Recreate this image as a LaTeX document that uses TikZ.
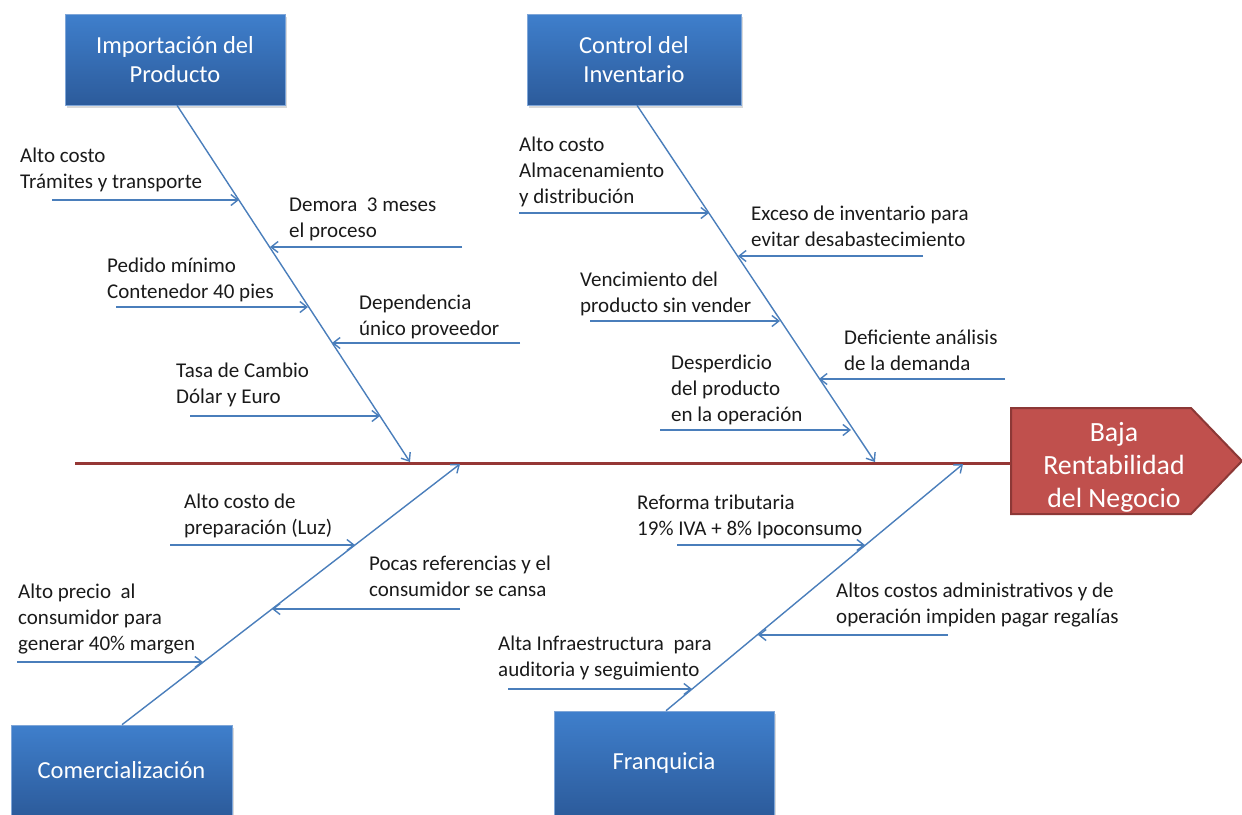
\documentclass[tikz,border=0pt]{standalone}
\usepackage{fontspec}
\setmainfont{Carlito}
\usetikzlibrary{arrows.meta,shadows}
\definecolor{bonecol}{HTML}{4A7EBB}
\definecolor{spinecol}{HTML}{953735}
\definecolor{boxtop}{HTML}{3F7FCC}
\definecolor{boxbot}{HTML}{2C5B9B}
\definecolor{boxline}{HTML}{7FA6D8}
\definecolor{effectfill}{HTML}{C0504D}
\definecolor{effectdraw}{HTML}{8C3836}
\definecolor{labeltext}{HTML}{1A1A1A}
\begin{document}
\begin{tikzpicture}[x=1pt,y=-1pt,
  causebox/.style={shading=axis, top color=boxtop, bottom color=boxbot,
    draw=boxline, line width=0.6pt,
    drop shadow={opacity=0.3, shadow xshift=1.5pt, shadow yshift=-2.5pt},
    text=white, font=\fontsize{24.5}{29}\selectfont, align=center, inner sep=0pt},
  % labels are anchored at the baseline of their last line
  lbl/.style={font=\fontsize{21}{26}\selectfont, text=labeltext, align=left,
    anchor=base west, inner sep=0pt},
  bone/.style={draw=bonecol, line width=1.4pt,
    -{Straight Barb[length=7pt,width=11pt,line width=1.4pt]}},
  spine/.style={draw=spinecol, line width=3pt}]
\useasboundingbox (0,0) rectangle (1242,814);

% category boxes
\node[causebox, minimum width=220pt, minimum height=91pt] (imp) at (175,59.5) {Importación del\\Producto};
\node[causebox, minimum width=214pt, minimum height=91pt] (ctl) at (634,59.5) {Control del\\Inventario};
\node[causebox, minimum width=221pt, minimum height=91pt] (com) at (121.5,770.5) {Comercialización};
\node[causebox, minimum width=220pt, minimum height=105pt] (fra) at (664,763.5) {Franquicia};

% effect (head of the fish)
\draw[fill=effectfill, draw=effectdraw, line width=2pt]
  (1011,408) -- (1191,408) -- (1242,461) -- (1191,514) -- (1011,514) -- cycle;
\node[text=white, font=\fontsize{27.8}{33}\selectfont, align=center, inner sep=0pt] (eff) at (1114,467) {Baja\\Rentabilidad\\del Negocio};

% spine
\coordinate (tail) at (75,463);
\coordinate (head) at (1011,463);
\draw[spine] (tail) -- (head);

% main bones
\coordinate (impend) at (410,462);
\coordinate (ctlend) at (875,462);
\coordinate (comend) at (460,464);
\coordinate (fraend) at (963,464);
\draw[bone] ([xshift=2pt]imp.south) -- (impend);
\draw[bone] ([xshift=3pt]ctl.south) -- (ctlend);
\draw[bone] ([xshift=0.5pt]com.north) -- (comend);
\draw[bone] ([xshift=2pt]fra.north) -- (fraend);

% Importación del Producto
\coordinate (i1s) at (52,200);  \coordinate (i1e) at (239,200);
\coordinate (i2s) at (462,247); \coordinate (i2e) at (270,247);
\coordinate (i3s) at (116,307); \coordinate (i3e) at (308,307);
\coordinate (i4s) at (520,343); \coordinate (i4e) at (332,343);
\coordinate (i5s) at (190,416); \coordinate (i5e) at (380,416);
\draw[bone] (i1s) -- (i1e);
\draw[bone] (i2s) -- (i2e);
\draw[bone] (i3s) -- (i3e);
\draw[bone] (i4s) -- (i4e);
\draw[bone] (i5s) -- (i5e);
\node[lbl] (ti1) at (20,188) {Alto costo\\Trámites y transporte};
\node[lbl] (ti2) at (289,237) {Demora~ 3 meses\\el proceso};
\node[lbl] (ti3) at (107,298) {Pedido mínimo\\Contenedor 40 pies};
\node[lbl] (ti4) at (359,335) {Dependencia\\único proveedor};
\node[lbl] (ti5) at (176,403) {Tasa de Cambio\\Dólar y Euro};

% Control del Inventario
\coordinate (c1s) at (519,213);  \coordinate (c1e) at (709,213);
\coordinate (c2s) at (923,256);  \coordinate (c2e) at (738,256);
\coordinate (c3s) at (590,321);  \coordinate (c3e) at (780,321);
\coordinate (c4s) at (1005,379); \coordinate (c4e) at (819,379);
\coordinate (c5s) at (660,430);  \coordinate (c5e) at (851,430);
\draw[bone] (c1s) -- (c1e);
\draw[bone] (c2s) -- (c2e);
\draw[bone] (c3s) -- (c3e);
\draw[bone] (c4s) -- (c4e);
\draw[bone] (c5s) -- (c5e);
\node[lbl] (tc1) at (519,203) {Alto costo\\Almacenamiento\\y distribución};
\node[lbl] (tc2) at (751,246) {Exceso de inventario para\\evitar desabastecimiento};
\node[lbl] (tc3) at (580,312) {Vencimiento del\\producto sin vender};
\node[lbl] (tc4) at (844,370) {Deficiente análisis\\de la demanda};
\node[lbl] (tc5) at (671,421) {Desperdicio\\del producto\\en la operación};

% Comercialización
\coordinate (m1s) at (170,545); \coordinate (m1e) at (355,545);
\coordinate (m2s) at (460,609); \coordinate (m2e) at (272,609);
\coordinate (m3s) at (17,662);  \coordinate (m3e) at (203,662);
\draw[bone] (m1s) -- (m1e);
\draw[bone] (m2s) -- (m2e);
\draw[bone] (m3s) -- (m3e);
\node[lbl] (tm1) at (184,534) {Alto costo de\\preparación (Luz)};
\node[lbl] (tm2) at (369,596) {Pocas referencias y el\\consumidor se cansa};
\node[lbl] (tm3) at (18,650) {Alto precio~ al\\consumidor para\\generar 40\% margen};

% Franquicia
\coordinate (f1s) at (677,545); \coordinate (f1e) at (865,545);
\coordinate (f2s) at (948,635); \coordinate (f2e) at (758,635);
\coordinate (f3s) at (508,689); \coordinate (f3e) at (692,689);
\draw[bone] (f1s) -- (f1e);
\draw[bone] (f2s) -- (f2e);
\draw[bone] (f3s) -- (f3e);
\node[lbl] (tf1) at (637,535) {Reforma tributaria\\19\% IVA + 8\% Ipoconsumo};
\node[lbl] (tf2) at (836,623) {Altos costos administrativos y de\\operación impiden pagar regalías};
\node[lbl] (tf3) at (498,676) {Alta Infraestructura~ para\\auditoria y seguimiento};
\end{tikzpicture}
\end{document}
